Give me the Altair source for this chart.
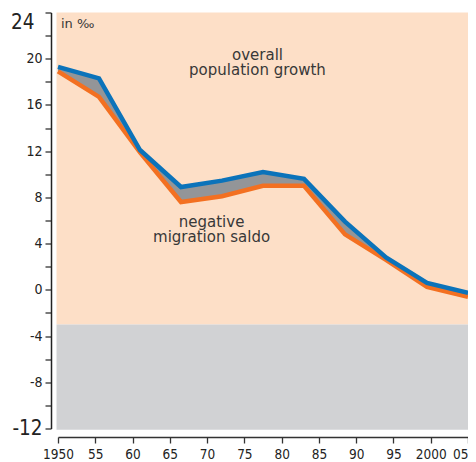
import altair as alt
import pandas as pd

years = [1950, 1955.5, 1961, 1966.5, 1972, 1977.5, 1983, 1988.5, 1994, 1999.5, 2005]
upper = [19.3, 18.3, 12.1, 8.9, 9.45, 10.2, 9.6, 5.9, 2.8, 0.6, -0.25]
lower = [18.9, 16.7, 11.9, 7.6, 8.1, 9.0, 9.0, 4.8, 2.6, 0.25, -0.6]

band_names = ["positive", "negative"]
band_x0 = [1949.8, 1949.8]
band_x1 = [2006, 2006]
band_y0 = [-3, -12.1]
band_y1 = [24, -3]
band_colors = ["#FDDFC7", "#D1D2D4"]

notes = ["overall\npopulation growth", "negative\nmigration saldo"]
note_x = [1976.76, 1970.6]
note_y = [19.85, 5.4]
unit_text = ["in ‰"]

x_ticks = list(range(1950, 2006, 5))
y_ticks = list(range(-12, 25, 2))

AFONT = "DejaVu Sans Condensed, DejaVu Sans, sans-serif"
TFONT = "DejaVu Sans, sans-serif"

df = pd.DataFrame({"year": years, "upper": upper, "lower": lower})
bands = pd.DataFrame({"name": band_names, "x0": band_x0, "x1": band_x1,
                      "y0": band_y0, "y1": band_y1, "c": band_colors})
notes_df = pd.DataFrame({"t": notes, "x": note_x, "y": note_y})
unit_df = pd.DataFrame({"t": unit_text, "x": [1950.4], "y": [22.66]})

xscale = alt.Scale(domain=[1950, 2005], nice=False, zero=False)
yscale = alt.Scale(domain=[-12, 24], nice=False, zero=False)

big = "datum.value == 24 || datum.value == -12"

xaxis = alt.Axis(
    values=x_ticks, title=None, grid=False, offset=8.5,
    labelExpr="(datum.value == 1950 || datum.value == 2000) ? '' + datum.value : ((datum.value % 100) < 10 ? '0' + (datum.value % 100) : '' + (datum.value % 100))",
    labelFont=AFONT, labelFontSize=13.5, labelColor="#222222", labelPadding=4,
    labelAlign={"condition": {"test": "datum.value == 2005", "value": "right"}, "value": "center"},
    labelFlush=False, labelOverlap=False, labelBound=False,
    tickSize=6, tickWidth=1.3, tickColor="#333333",
    domainColor="#333333", domainWidth=1.3,
)
yaxis = alt.Axis(
    values=y_ticks, title=None, grid=False, offset=7,
    labelExpr="datum.value % 4 == 0 ? '' + datum.value : ''",
    labelFont=AFONT,
    labelFontSize={"condition": {"test": big, "value": 20.5}, "value": 14},
    labelPadding={"condition": {"test": "datum.value == 24", "value": 11},
                  "value": 3},
    labelBaseline={"condition": {"test": "datum.value == 24", "value": "top"}, "value": "middle"},
    labelColor="#222222",
    labelFlush=False, labelOverlap=False, labelBound=False,
    tickSize=6, tickWidth=1.3, tickColor="#333333",
    domainColor="#222222", domainWidth=1.5,
)

X = lambda f: alt.X(f, scale=xscale, axis=xaxis)
Y = lambda f: alt.Y(f, scale=yscale, axis=yaxis)

bg = alt.Chart(bands).mark_rect().encode(
    x=X("x0:Q"), x2="x1:Q", y=Y("y0:Q"), y2="y1:Q",
    color=alt.Color("c:N", scale=None),
)

base = alt.Chart(df).encode(x=X("year:Q"))

area = base.mark_area(color="#939598", opacity=1).encode(y=Y("upper:Q"), y2="lower:Q")
line_lo = base.mark_line(color="#F37021", strokeWidth=4.5, strokeJoin="miter").encode(y=Y("lower:Q"))
line_hi = base.mark_line(color="#0B73BA", strokeWidth=4.5, strokeJoin="miter").encode(y=Y("upper:Q"))

txt = alt.Chart(notes_df).mark_text(
    font=TFONT, fontSize=15, color="#383838", align="center",
    baseline="alphabetic", lineBreak="\n", lineHeight=15,
).encode(x=X("x:Q"), y=Y("y:Q"), text="t:N")

unit = alt.Chart(unit_df).mark_text(
    font=TFONT, fontSize=13, color="#383838", align="left", baseline="alphabetic",
).encode(x=X("x:Q"), y=Y("y:Q"), text="t:N")

chart = alt.layer(bg, area, line_lo, line_hi, txt, unit).properties(
    width=410, height=416,
    autosize=alt.AutoSizeParams(type="none"),
    padding={"left": 50, "top": 4.5, "right": 0, "bottom": 38},
    background="#FFFFFF",
).configure_view(stroke=None, clip=False)

chart.save("out.html", embed_options={"renderer": "svg", "actions": False})
